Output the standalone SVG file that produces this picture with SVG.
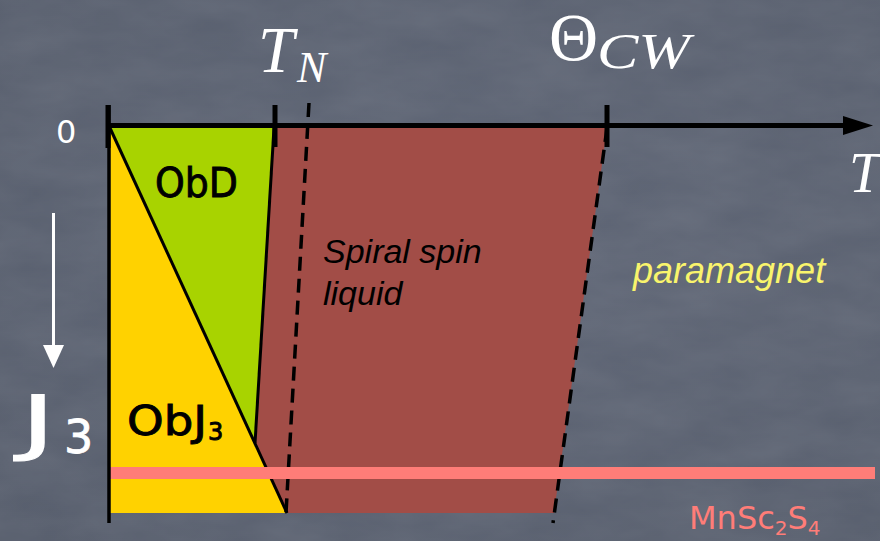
<svg xmlns="http://www.w3.org/2000/svg" width="880" height="541" viewBox="0 0 880 541">
<defs>
<filter id="grain" x="0" y="0" width="100%" height="100%">
<feTurbulence type="fractalNoise" baseFrequency="0.012 0.03" numOctaves="4" seed="3" result="n"/>
<feColorMatrix type="matrix" values="0 0 0 0 1  0 0 0 0 1  0 0 0 0 1  0 0 0 0.09 0" in="n"/>
</filter>
<radialGradient id="bg" cx="0.55" cy="0.45" r="0.75">
<stop offset="0" stop-color="#5e6575"/>
<stop offset="1" stop-color="#555c6b"/>
</radialGradient>
</defs>
<style>
.ax{stroke:#000;fill:none;stroke-linecap:butt}
.dash{stroke:#000;stroke-width:3.5;fill:none;stroke-dasharray:14 8}
.math{font-family:"Liberation Serif","DejaVu Serif",serif;fill:#fff}
.chalk{font-family:"DejaVu Sans",sans-serif}
.thick{stroke:#000;stroke-width:0.9}
.ital{font-family:"Liberation Sans",Arial,sans-serif;font-style:italic}
</style>
<rect width="880" height="541" fill="url(#bg)"/>
<rect width="880" height="541" filter="url(#grain)"/>

<g id="phases">
<polygon id="spiral-region" points="275,128 607,128 554,513 287,513 255,443" fill="#a24d47"/>
<polygon id="obj3-region" points="110,128 287,513 110,513" fill="#ffd200"/>
<polygon id="obd-region" points="110,128 274,128 255,443" fill="#a8d300"/>
</g>

<g id="connectors">
<line class="ax" x1="110" y1="128" x2="287" y2="513" stroke-width="3"/>
<line class="ax" x1="274" y1="128" x2="255" y2="443" stroke-width="3"/>
<line class="dash" x1="309" y1="103" x2="286" y2="513"/>
<line class="dash" x1="607" y1="128" x2="553" y2="523"/>
<rect id="mnsc2s4-line" x="108" y="467" width="767" height="12" fill="#ff7d78"/>
<line class="ax" x1="109" y1="105" x2="109" y2="523" stroke-width="3.5"/>
<line class="ax" x1="108" y1="125.5" x2="846" y2="125.5" stroke-width="5"/>
<polygon points="843,116 873,125.5 843,135" fill="#000"/>
<line class="ax" x1="108" y1="105" x2="108" y2="148" stroke-width="5"/>
<line class="ax" x1="275" y1="105" x2="275" y2="147" stroke-width="5"/>
<line class="ax" x1="607" y1="105" x2="607" y2="147" stroke-width="5"/>
<line x1="53.5" y1="213" x2="53.5" y2="350" stroke="#fff" stroke-width="3"/>
<polygon points="43,345 64,345 53.5,368" fill="#fff"/>
</g>

<g id="labels">
<text class="chalk" x="56" y="143" font-size="32" fill="#fff">0</text>
<text class="math" x="258" y="72" font-size="65" font-style="italic">T</text>
<text class="math" x="297" y="82" font-size="44" font-style="italic">N</text>
<text class="math" x="549" y="60" font-size="68">Θ</text>
<text class="math" x="597" y="68" font-size="50" font-style="italic" textLength="93" lengthAdjust="spacingAndGlyphs">CW</text>
<text class="math" x="849" y="192" font-size="56" font-style="italic" fill="#000">T</text>
<text class="chalk thick" x="155" y="197" font-size="40" fill="#000" textLength="83" lengthAdjust="spacingAndGlyphs">ObD</text>
<text class="chalk thick" x="127" y="435" font-size="40" fill="#000" textLength="80" lengthAdjust="spacingAndGlyphs">ObJ</text>
<text class="chalk thick" x="208" y="440" font-size="24" fill="#000" stroke-width="0.6">3</text>
<text class="chalk" x="20" y="447" font-size="72" fill="#fff" stroke="#fff" stroke-width="0.8" textLength="36" lengthAdjust="spacingAndGlyphs">J</text>
<text class="chalk" x="64" y="453" font-size="46" fill="#fff" stroke="#fff" stroke-width="0.8">3</text>
<text class="ital" x="323" y="263" font-size="34" fill="#000">Spiral spin</text>
<text class="ital" x="323" y="305" font-size="34" fill="#000">liquid</text>
<text class="ital" x="633" y="283" font-size="36" fill="#f9f46c">paramagnet</text>
<text class="chalk" x="689" y="529" font-size="32" fill="#ff7d78">MnSc<tspan font-size="20" dy="6">2</tspan><tspan dy="-6">S</tspan><tspan font-size="20" dy="6">4</tspan></text>
</g>
</svg>
